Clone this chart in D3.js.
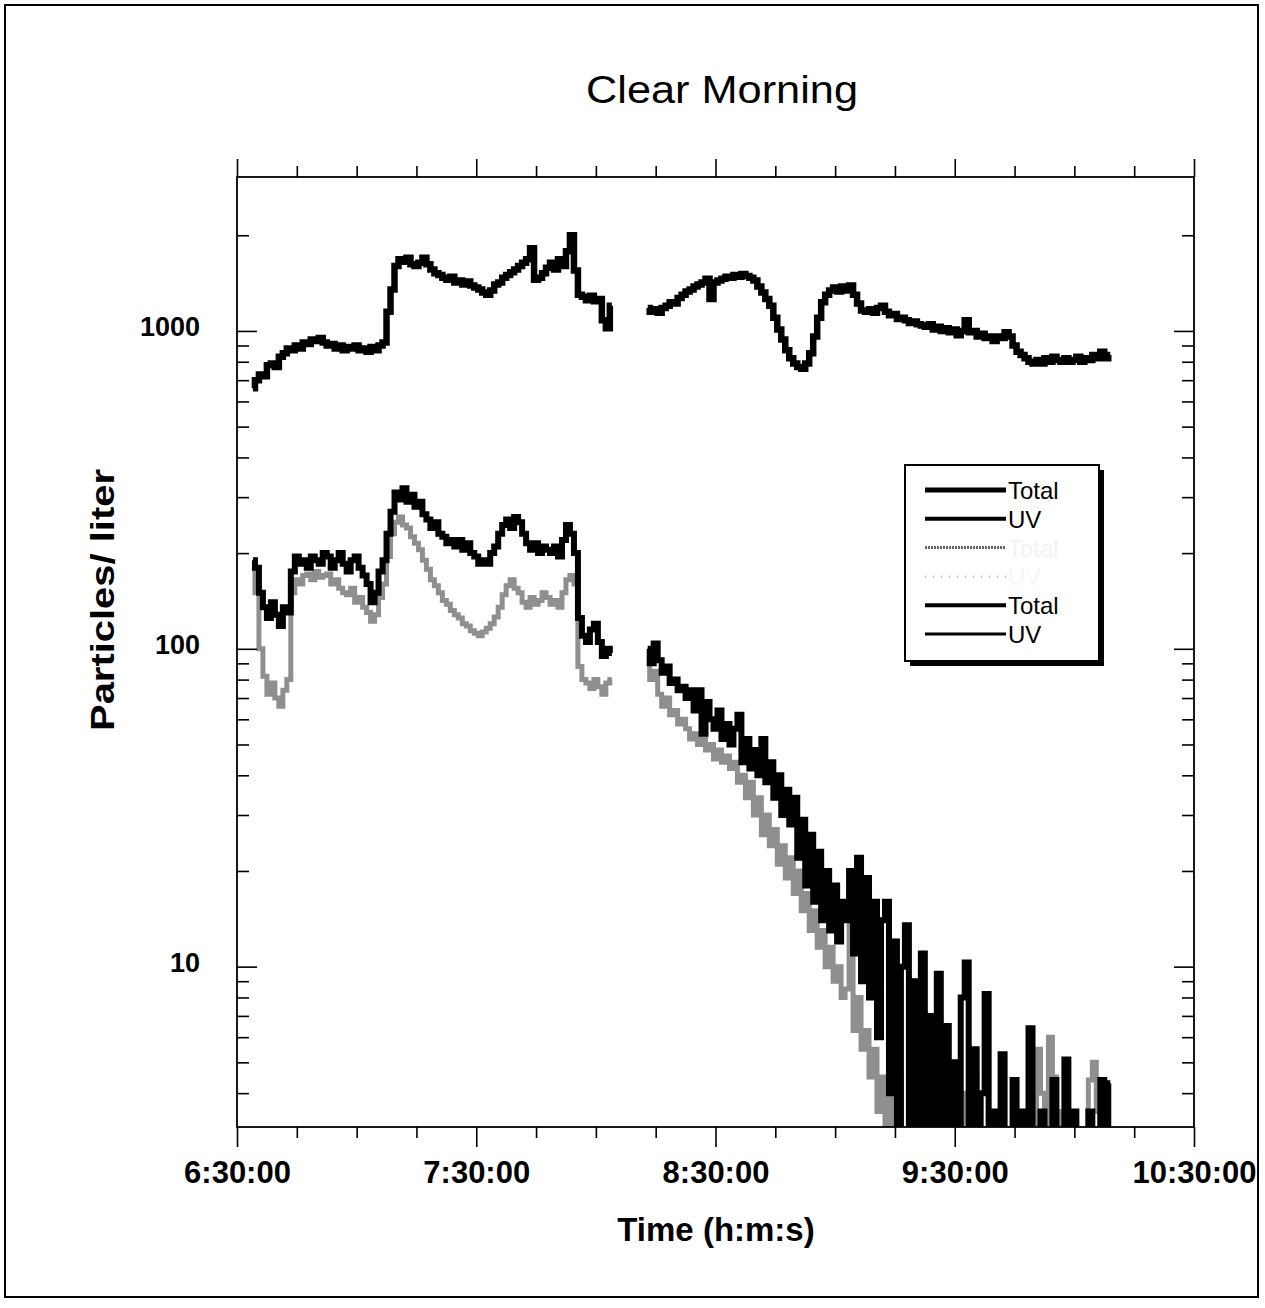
<!DOCTYPE html>
<html><head><meta charset="utf-8">
<script src="https://cdn.jsdelivr.net/npm/d3@7"></script>
<style>body{margin:0;background:#fff}</style>
</head><body>
<svg id="c" width="1265" height="1308"></svg>
<script>
// ---- data (1-minute samples) ----
const startA = "6:34:00";
const startB = "8:13:00";
const totalA = [660,700,730,720,780,790,770,830,850,880,
 870,900,880,920,910,940,930,950,920,900,
 910,880,900,870,890,880,900,870,880,860,
 890,870,900,920,1150,1350,1600,1680,1650,1700,
 1620,1600,1640,1700,1620,1560,1520,1500,1470,1450,
 1480,1420,1440,1400,1430,1390,1370,1350,1320,1300,
 1340,1400,1420,1470,1500,1530,1560,1600,1640,1680,
 1820,1450,1470,1520,1580,1640,1560,1680,1600,1780,
 2000,1550,1300,1280,1250,1290,1240,1260,1080,1020,
 1200];
const totalB = [1180,1150,1170,1140,1180,1200,1230,1220,1270,1300,
 1330,1350,1380,1400,1420,1460,1260,1420,1440,1460,
 1480,1470,1500,1480,1510,1490,1470,1440,1380,1320,
 1260,1200,1100,1010,940,870,820,790,770,760,
 790,850,960,1100,1230,1300,1340,1370,1330,1380,
 1340,1390,1300,1220,1160,1150,1170,1140,1180,1200,
 1150,1120,1130,1090,1100,1080,1060,1070,1050,1040,
 1030,1050,1010,1030,1000,1020,990,1010,970,1000,
 1080,990,1000,960,980,950,960,930,960,950,
 990,960,900,860,840,820,800,790,810,790,
 820,800,830,810,800,820,800,810,830,800,
 820,810,840,820,860,820,840];
const uvA = [190,180,150,135,125,140,128,118,135,130,
 175,195,185,190,180,195,190,185,200,195,
 180,190,200,185,175,190,195,180,170,160,
 140,150,175,190,230,270,310,295,320,290,
 305,280,290,265,255,240,250,230,225,215,
 220,210,220,205,215,200,195,185,190,185,
 200,210,230,245,255,240,260,250,230,215,
 205,215,200,210,205,200,210,195,220,245,
 230,200,125,110,105,115,120,105,95,100,
 97];
const uvB = [100,90,104,92,84,88,78,80,74,76,
 70,74,64,74,54,68,60,56,64,52,
 58,50,56,62,44,52,42,48,40,52,
 38,44,34,40,30,36,28,34,22,29,
 18,26,16,23,14,20,13,18,12,16,
 14,20,11,22,9,19,8,16,6,14,
 16,4,12,2,10,13.5,2,9,2,11,
 2,7,2,9.5,2,6.5,2,5,2,8,
 10.3,2,5.5,2,4,8.2,2,3.5,2,5.3,
 2,2,4.4,2,3.5,2,6.4,2,2,3.5,
 2,2,4.4,2,2,5.1,2,3.5,2,2,
 2,3.5,2,2,4.4,2,4.3];
const grayA = [180,150,100,82,72,78,70,66,74,80,
 150,165,160,170,172,165,175,168,170,172,
 160,165,155,150,148,155,140,145,135,130,
 122,128,145,160,195,230,250,260,245,240,
 225,215,205,190,178,165,158,150,142,138,
 132,128,125,120,118,114,112,110,113,116,
 120,126,135,148,158,165,155,150,140,135,
 145,138,142,150,145,138,142,135,150,165,
 170,160,88,80,78,75,80,76,72,78,
 80];
const grayB = [92,80,85,72,66,70,62,64,58,60,
 56,52,54,50,52,48,50,45,48,44,
 46,42,44,38,40,34,38,30,34,26,
 30,24,27,21,24,19,22,17,20,15,
 17,13,15,11.5,13,10,11.5,9,10,8,
 8.5,16,6.3,8,5.5,6.3,4.5,5.5,3.5,4.5,
 2,5.1,2,4.5,2,2,3.5,2,2,2,
 2,2,2,2,3.5,2,2,2,2,2,
 4,2,4.4,2,2,2,2,3.5,2,2,
 2,2,2,2,2,2,2,2,5.5,4,
 2,6,4.5,3.5,2,2,2,2,2,2,
 2,4.4,5,3.5,2,2,2];
const xTickLabels = ["6:30:00","7:30:00","8:30:00","9:30:00","10:30:00"];
const yMajor = [10,100,1000];
const yMinor = [4,5,6,7,8,9,20,30,40,50,60,70,80,90,200,300,400,500,600,700,800,900,2000];
const legendLabels = ["Total","UV","Total","UV","Total","UV"];
const titleText = "Clear Morning";
const xTitle = "Time (h:m:s)";
const yTitle = "Particles/ liter";

// ---- scales ----
const parse = d3.timeParse("%H:%M:%S");
const fmt = d3.timeFormat("%-H:%M:%S");
const x = d3.scaleTime().domain([parse("6:30:00"), parse("10:30:00")]).range([237, 1194]);
const y = d3.scaleLog().domain([3.13, 3050]).range([1127, 177]);
const L = 237, R = 1194, T = 177, B = 1127;

const svg = d3.select("#c");
svg.append("rect").attr("x",5).attr("y",5).attr("width",1253).attr("height",1292)
  .attr("fill","none").attr("stroke","#000").attr("stroke-width",2);

svg.append("text").attr("x",722).attr("y",103).attr("text-anchor","middle")
  .style("font-family","'Liberation Sans', Arial, sans-serif").style("font-size","38px")
  .attr("textLength",272).attr("lengthAdjust","spacingAndGlyphs").text(titleText);

// clip
svg.append("clipPath").attr("id","clip").append("rect")
  .attr("x",L).attr("y",T).attr("width",R-L).attr("height",B-T);

function series(start, vals){
  const t0 = parse(start);
  return vals.map((v,i)=>({t:d3.timeMinute.offset(t0,i), v}));
}
const line = d3.line().x(d=>x(d.t)).y(d=>y(d.v)).curve(d3.curveStep);
const g = svg.append("g").attr("clip-path","url(#clip)");
function draw(start, vals, color, w){
  g.append("path").attr("d", line(series(start, vals))).attr("fill","none")
    .attr("stroke",color).attr("stroke-width",w).attr("stroke-linejoin","miter");
}
draw(startA, grayA, "#8f8f8f", 5);
draw(startB, grayB, "#8f8f8f", 5);
draw(startA, uvA, "#000", 6);
draw(startB, uvB, "#000", 6);
draw(startA, totalA, "#000", 6.5);
draw(startB, totalB, "#000", 6.5);

// ---- axes ----
const hours = xTickLabels.map(parse);
const quarters = d3.timeMinute.every(15).range(parse("6:30:00"), d3.timeMinute.offset(parse("10:30:00"),1))
  .filter(d=>d.getMinutes()!==30);
function styleAxis(sel){ sel.select(".domain").remove(); sel.selectAll("line").attr("stroke","#000").attr("stroke-width",1.6); }

svg.append("g").attr("transform",`translate(0,${B})`)
  .call(d3.axisBottom(x).tickValues(quarters).tickSize(11).tickFormat("")).call(styleAxis);
const bx = svg.append("g").attr("transform",`translate(0,${B})`)
  .call(d3.axisBottom(x).tickValues(hours).tickSize(20).tickPadding(14).tickFormat(fmt)).call(styleAxis);
bx.selectAll("text").attr("fill","#000")
  .style("font-family","'Liberation Sans Narrow','Arial Narrow',sans-serif").style("font-weight","bold").style("font-size","31px");

svg.append("g").attr("transform",`translate(0,${T})`)
  .call(d3.axisTop(x).tickValues(quarters).tickSize(11).tickFormat("")).call(styleAxis);
svg.append("g").attr("transform",`translate(0,${T})`)
  .call(d3.axisTop(x).tickValues(hours).tickSize(18).tickFormat("")).call(styleAxis);

svg.append("g").attr("transform",`translate(${L},0)`)
  .call(d3.axisLeft(y).tickValues(yMinor).tickSize(-12).tickFormat("")).call(styleAxis);
svg.append("g").attr("transform",`translate(${L},0)`)
  .call(d3.axisLeft(y).tickValues(yMajor).tickSize(-20).tickFormat("")).call(styleAxis);
svg.append("g").attr("transform",`translate(${R},0)`)
  .call(d3.axisRight(y).tickValues(yMinor).tickSize(-12).tickFormat("")).call(styleAxis);
svg.append("g").attr("transform",`translate(${R},0)`)
  .call(d3.axisRight(y).tickValues(yMajor).tickSize(-20).tickFormat("")).call(styleAxis);

svg.selectAll(null).data(yMajor).enter().append("text")
  .attr("x",200).attr("y",d=>y(d)+5).attr("text-anchor","end")
  .style("font-family","'Liberation Sans', Arial, sans-serif").style("font-weight","bold").style("font-size","27px")
  .text(d=>d);

// frame
svg.append("rect").attr("x",L).attr("y",T).attr("width",R-L).attr("height",B-T)
  .attr("fill","none").attr("stroke","#000").attr("stroke-width",1.8);

// axis titles
svg.append("text").attr("x",716).attr("y",1241).attr("text-anchor","middle")
  .style("font-family","'Liberation Sans Narrow','Liberation Sans',sans-serif").style("font-weight","bold").style("font-size","33px")
  .text(xTitle);
svg.append("text").attr("transform","translate(114,600) rotate(-90)").attr("text-anchor","middle")
  .style("font-family","'Liberation Sans', Arial, sans-serif").style("font-weight","bold").style("font-size","34px")
  .attr("textLength",262).attr("lengthAdjust","spacingAndGlyphs")
  .text(yTitle);

// ---- legend ----
const lg = svg.append("g");
lg.append("rect").attr("x",910).attr("y",470).attr("width",194).attr("height",196).attr("fill","#000");
lg.append("rect").attr("x",905).attr("y",465).attr("width",194).attr("height",196)
  .attr("fill","#fff").attr("stroke","#000").attr("stroke-width",2);
const rows = [
  {c:"#000", w:5, dash:null, tc:"#000"},
  {c:"#000", w:4, dash:null, tc:"#000"},
  {c:"#666", w:3, dash:"2,1", tc:"#f3f3f3"},
  {c:"#aaa", w:2, dash:"1,7", tc:"#f7f7f7"},
  {c:"#000", w:4, dash:null, tc:"#000"},
  {c:"#000", w:3, dash:null, tc:"#000"}
];
const rowY = d3.scaleLinear().domain([0,5]).range([490,634]);
rows.forEach((r,i)=>{
  lg.append("line").attr("x1",925).attr("x2",1006).attr("y1",rowY(i)).attr("y2",rowY(i))
    .attr("stroke",r.c).attr("stroke-width",r.w).attr("stroke-dasharray",r.dash);
  lg.append("text").attr("x",1008).attr("y",rowY(i)+9)
    .style("font-family","'Liberation Sans', Arial, sans-serif").style("font-size","24px")
    .attr("fill",r.tc).text(legendLabels[i]);
});
</script>
</body></html>
